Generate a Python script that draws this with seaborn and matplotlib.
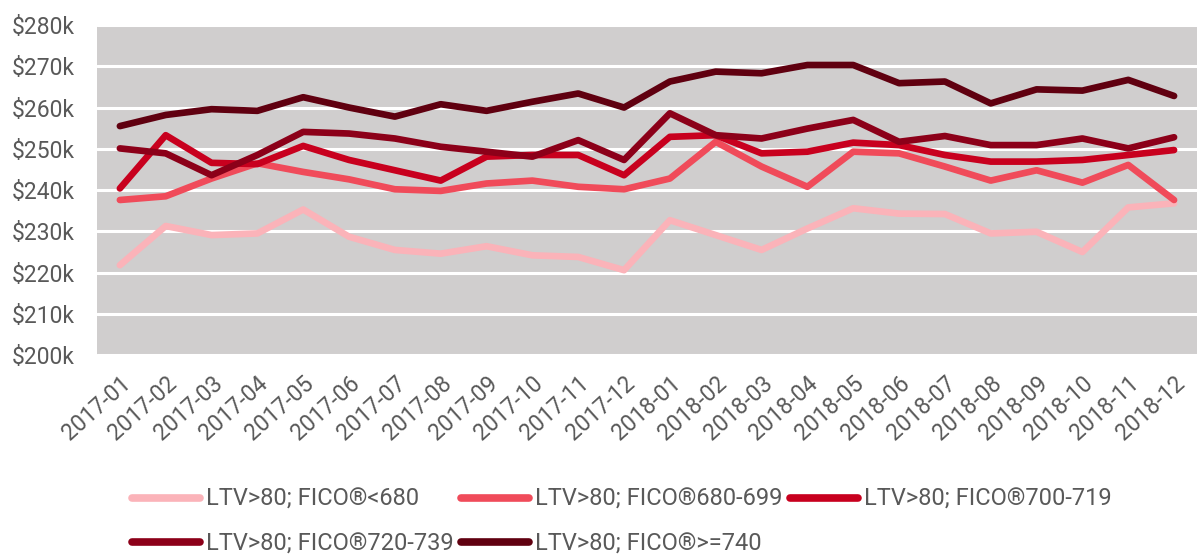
import pandas as pd
import matplotlib
matplotlib.use("Agg")
import matplotlib.pyplot as plt
import seaborn as sns
from matplotlib.ticker import FuncFormatter

months = ["2017-01", "2017-02", "2017-03", "2017-04", "2017-05", "2017-06",
          "2017-07", "2017-08", "2017-09", "2017-10", "2017-11", "2017-12",
          "2018-01", "2018-02", "2018-03", "2018-04", "2018-05", "2018-06",
          "2018-07", "2018-08", "2018-09", "2018-10", "2018-11", "2018-12"]

# median loan amount, $k
fico_lt680 = [221.8, 231.3, 229.1, 229.5, 235.3, 228.7, 225.5, 224.6, 226.4, 224.2, 223.8, 220.6,
              232.7, 229.1, 225.5, 230.7, 235.6, 234.3, 234.2, 229.5, 229.9, 225.0, 235.8, 236.8]
fico_680_699 = [237.6, 238.5, 242.8, 246.5, 244.4, 242.6, 240.2, 239.8, 241.6, 242.3, 240.8, 240.2,
                242.8, 251.7, 245.7, 240.8, 249.3, 248.9, 245.7, 242.3, 244.8, 241.8, 246.1, 237.6]
fico_700_719 = [240.4, 253.3, 246.6, 246.3, 250.7, 247.3, 244.8, 242.3, 248.1, 248.5, 248.5, 243.6,
                252.9, 253.3, 248.9, 249.3, 251.5, 250.9, 248.5, 246.9, 246.9, 247.3, 248.5, 249.7]
fico_720_739 = [250.1, 248.9, 243.6, 248.5, 254.1, 253.7, 252.5, 250.5, 249.3, 248.1, 252.1, 247.3,
                258.6, 253.3, 252.5, 254.9, 257.0, 251.7, 253.1, 250.9, 250.9, 252.5, 250.1, 252.8]
fico_ge740 = [255.5, 258.2, 259.6, 259.2, 262.5, 260.0, 257.8, 260.8, 259.2, 261.4, 263.4, 260.0,
              266.3, 268.7, 268.3, 270.3, 270.3, 265.9, 266.3, 261.0, 264.4, 264.1, 266.7, 262.8]

labels = ["LTV>80; FICO®<680", "LTV>80; FICO®680-699", "LTV>80; FICO®700-719",
          "LTV>80; FICO®720-739", "LTV>80; FICO®>=740"]
colors = ["#fbb3b9", "#f04b5a", "#c8001e", "#8c0019", "#600010"]

series = [fico_lt680, fico_680_699, fico_700_719, fico_720_739, fico_ge740]
frames = []
for lab, vals in zip(labels, series):
    frames.append(pd.DataFrame({"month": months, "value": vals, "group": lab}))
df = pd.concat(frames, ignore_index=True)
df["x"] = df["month"].map({m: i for i, m in enumerate(months)})

sns.set_style("white")
plt.rcParams["font.family"] = ["Roboto", "DejaVu Sans"]
text_color = "#595959"

fig = plt.figure(figsize=(11.97, 5.55), dpi=100)
ax = fig.add_axes([0.081, 0.36, 0.919, 0.595])
ax.set_facecolor("#d0cece")

sns.lineplot(data=df, x="x", y="value", hue="group", palette=colors,
             hue_order=labels, linewidth=4.8, ax=ax, legend=False)

ax.set_xlim(-0.5, 23.5)
ax.set_ylim(200, 280)
ax.set_yticks(range(200, 281, 10))
ax.yaxis.set_major_formatter(FuncFormatter(lambda v, p: f"${int(v)}k"))
ax.set_xticks(range(len(months)))
ax.set_xticklabels(months, rotation=42, ha="right", rotation_mode="anchor")
ax.grid(axis="y", color="white", linewidth=2.2)
ax.grid(axis="x", visible=False)
ax.set_axisbelow(True)
for s in ax.spines.values():
    s.set_visible(False)
ax.tick_params(axis="both", length=0, labelsize=16.5, colors=text_color)
ax.tick_params(axis="x", pad=12)
ax.tick_params(axis="y", pad=16)
ax.set_xlabel("")
ax.set_ylabel("")

# legend fills column-wise, so order the entries to read row-wise
order = [0, 3, 1, 4, 2]
handles = [plt.Line2D([], [], color=colors[i], linewidth=5.5, solid_capstyle="round") for i in order]
fig.legend(handles, [labels[i] for i in order], loc="upper left", bbox_to_anchor=(0.1003, 0.142),
           ncol=3, frameon=False, fontsize=17, labelcolor=text_color, handlelength=2.9,
           handletextpad=0.25, columnspacing=0.3, labelspacing=0.9, borderpad=0)

fig.savefig("out.png", dpi=100)
